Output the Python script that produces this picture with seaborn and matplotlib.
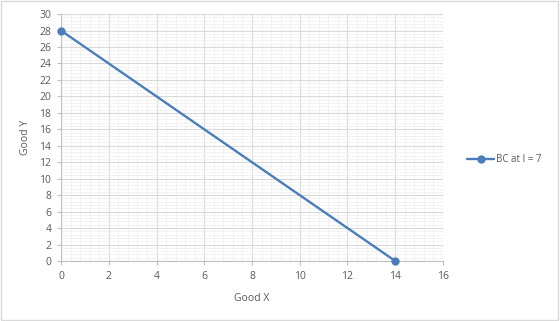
import matplotlib
matplotlib.use('Agg')
import matplotlib.pyplot as plt
import seaborn as sns
import pandas as pd
from matplotlib.ticker import MultipleLocator
from matplotlib.patches import Rectangle

# budget constraint points
good_x = [0, 14]
good_y = [28, 0]
series_name = 'BC at I = 7'

df = pd.DataFrame({'Good X': good_x, 'Good Y': good_y, 'series': series_name})

sns.set_style('white')
plt.rcParams['font.family'] = ['Open Sans', 'DejaVu Sans']

fig = plt.figure(figsize=(5.6, 3.21), dpi=100)
ax = fig.add_axes([0.109, 0.187, 0.682, 0.769])

blue = '#4a7ebb'
sns.lineplot(data=df, x='Good X', y='Good Y', hue='series', palette=[blue],
             marker='o', markersize=6, markeredgewidth=0, linewidth=1.7, ax=ax)
for ln in ax.lines:
    ln.set_clip_on(False)
    ln.set_zorder(5)

ax.set_xlim(0, 16)
ax.set_ylim(0, 30)
ax.xaxis.set_major_locator(MultipleLocator(2))
ax.yaxis.set_major_locator(MultipleLocator(2))
ax.xaxis.set_minor_locator(MultipleLocator(0.4))
ax.yaxis.set_minor_locator(MultipleLocator(0.4))
ax.grid(which='major', color='#d9d9d9', linewidth=0.8)
ax.grid(which='minor', color='#f0f0f0', linewidth=0.6)
ax.set_axisbelow(True)

for s in ['top', 'right']:
    ax.spines[s].set_visible(False)
for s in ['left', 'bottom']:
    ax.spines[s].set_color('#bfbfbf')
    ax.spines[s].set_linewidth(0.8)

ax.tick_params(which='major', direction='out', length=3, width=0.8, color='#bfbfbf',
               labelsize=7.5, labelcolor='#595959', pad=4, bottom=True, left=True)
ax.tick_params(which='minor', length=0)

ax.set_xlabel('Good X', fontsize=7.5, color='#595959', labelpad=8)
ax.set_ylabel('Good Y', fontsize=7.5, color='#595959', labelpad=6)

leg = ax.legend(loc='center left', bbox_to_anchor=(1.04, 0.41), frameon=False,
                fontsize=7, handlelength=2.8, handletextpad=0.2)
for t in leg.get_texts():
    t.set_color('#595959')

fig.patches.append(Rectangle((0.002, 0.003), 0.995, 0.993, transform=fig.transFigure,
                             fill=False, edgecolor='#d9d9d9', linewidth=1))

fig.savefig('out.png', dpi=100)
